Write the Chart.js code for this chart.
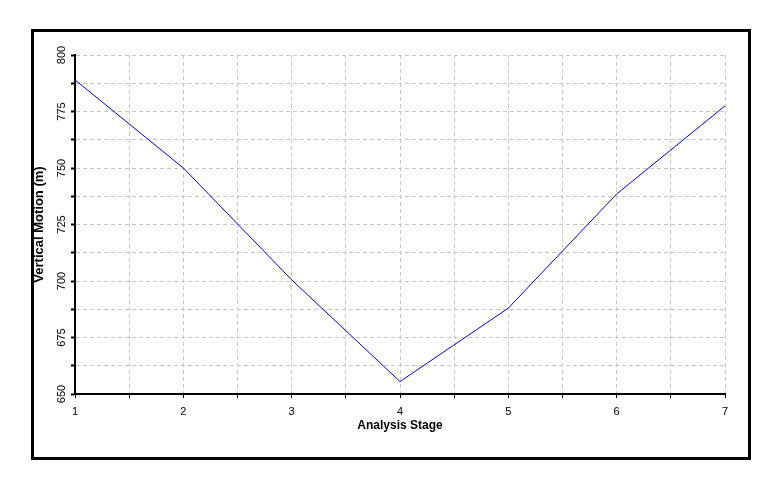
<!DOCTYPE html>
<html>
<head>
<meta charset="utf-8">
<script src="https://cdn.jsdelivr.net/npm/chart.js@4/dist/chart.umd.min.js"></script>
<style>
  body { margin: 0; background: #fff; }
  #wrap { position: relative; width: 780px; height: 489px; }
  #frame { position: absolute; left: 31px; top: 29px; width: 714px; height: 425px; border: 3px solid #000; }
  #chart { position: absolute; left: 0; top: 0; }
</style>
</head>
<body>
<div id="wrap">
  <div id="frame"></div>
  <canvas id="chart" width="780" height="489"></canvas>
</div>
<script>
// values
var stages = [1, 2, 3, 4, 5, 6, 7];
var motion = [789, 750, 700.5, 655.5, 688, 738.5, 777.5];
var xLabels = [1, 2, 3, 4, 5, 6, 7];
var yLabels = [650, 675, 700, 725, 750, 775, 800];

Chart.defaults.font.family = 'Arial, "Liberation Sans", sans-serif';
Chart.defaults.color = '#000';

var points = stages.map(function (s, i) {
  return { x: s, y: motion[i] };
});

var gridGrey = '#c8c8c8';

new Chart(document.getElementById('chart'), {
  type: 'line',
  data: {
    datasets: [{
      data: points,
      borderColor: '#0000ff',
      borderWidth: 1,
      pointRadius: 0,
      tension: 0,
      fill: false
    }]
  },
  options: {
    responsive: false,
    animation: false,
    layout: { padding: { left: 30, top: 55, right: 55, bottom: 55 } },
    plugins: { legend: { display: false }, tooltip: { enabled: false } },
    scales: {
      x: {
        type: 'linear',
        min: 1,
        max: 7,
        afterFit: function (s) { s.height = 40; },
        ticks: {
          stepSize: 0.5,
          autoSkip: false,
          maxRotation: 0,
          padding: 7,
          font: { size: 11 },
          callback: function (v) { return xLabels.indexOf(v) >= 0 ? v : ''; }
        },
        grid: { color: gridGrey, lineWidth: 1, tickColor: '#000', tickLength: 4, tickWidth: 1 },
        border: { color: '#000', width: 2, dash: [4, 3] },
        title: {
          display: true,
          text: 'Analysis Stage',
          font: { size: 12, weight: 'bold' },
          padding: { top: 0, bottom: 1 }
        }
      },
      y: {
        min: 650,
        max: 800,
        afterFit: function (s) { s.width = 45; },
        ticks: {
          stepSize: 12.5,
          autoSkip: false,
          minRotation: 90,
          maxRotation: 90,
          crossAlign: 'center',
          padding: 0,
          font: { size: 11 },
          callback: function (v) { return yLabels.indexOf(v) >= 0 ? v : ''; }
        },
        grid: { color: gridGrey, lineWidth: 1, tickColor: '#000', tickLength: 4, tickWidth: 2 },
        border: { color: '#000', width: 2, dash: [4, 3] },
        title: {
          display: true,
          text: 'Vertical Motion (m)',
          font: { size: 13, weight: 'bold' },
          padding: { top: 2, bottom: 0 }
        }
      }
    }
  }
});
</script>
</body>
</html>
